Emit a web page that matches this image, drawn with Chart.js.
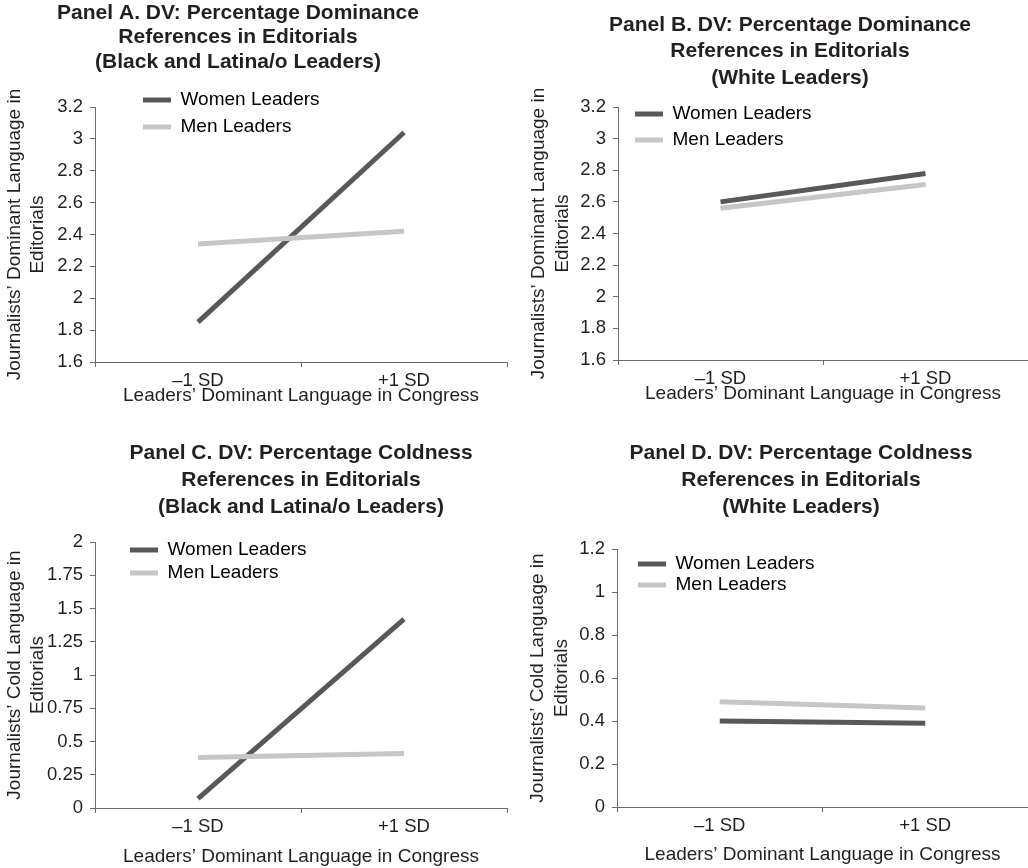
<!DOCTYPE html>
<html>
<head>
<meta charset="utf-8">
<script src="https://cdn.jsdelivr.net/npm/chart.js@4.4.1/dist/chart.umd.min.js"></script>
<style>
  body { margin: 0; background: #fff; }
  #wrap { position: relative; width: 1028px; height: 868px; }
  canvas { position: absolute; }
</style>
</head>
<body>
<div id="wrap">
  <canvas id="panelA" width="514" height="434" style="left:0;top:0"></canvas>
  <canvas id="panelB" width="514" height="434" style="left:514px;top:0"></canvas>
  <canvas id="panelC" width="514" height="434" style="left:0;top:434px"></canvas>
  <canvas id="panelD" width="514" height="434" style="left:514px;top:434px"></canvas>
</div>
<script>
// data
const sdLabels = ['\u20131 SD', '+1 SD'];
const seriesNames = ['Women Leaders', 'Men Leaders'];

const domMinorityWomen = [1.85, 3.04];
const domMinorityMen = [2.34, 2.42];
const domWhiteWomen = [2.60, 2.78];
const domWhiteMen = [2.56, 2.71];
const coldMinorityWomen = [0.07, 1.42];
const coldMinorityMen = [0.38, 0.41];
const coldWhiteWomen = [0.40, 0.39];
const coldWhiteMen = [0.49, 0.46];

const domTicks = { min: 1.6, max: 3.2, step: 0.2 };
const coldMinorityTicks = { min: 0, max: 2, step: 0.25 };
const coldWhiteTicks = { min: 0, max: 1.2, step: 0.2 };

const xTitle = 'Leaders\u2019 Dominant Language in Congress';
const yTitleDom = ['Journalists\u2019 Dominant Language in', 'Editorials'];
const yTitleCold = ['Journalists\u2019 Cold Language in', 'Editorials'];

const FONT = '"Liberation Sans", Arial, Helvetica, sans-serif';
const textColor = '#231f20';
const axisColor = '#6b6b6b';
const womenColor = '#58585a';
const menColor = '#c6c6c6';
const H = 434;

// moves the legend and centres the title where the figure has them
const panelTweak = {
  id: 'panelTweak',
  afterLayout(chart, args, opts) {
    const lg = chart.legend;
    if (lg) {
      lg.left = opts.legendLeft;
      lg.top = opts.legendTop;
      lg.bottom = lg.top + 300;
    }
    const tb = chart.titleBlock;
    if (tb) {
      tb.left = opts.titleCenter - 250;
      tb.right = opts.titleCenter + 250;
    }
  }
};

function makePanel(id, p) {
  const ctx = document.getElementById(id).getContext('2d');
  const fmt = (v) => String(+v.toFixed(2));
  return new Chart(ctx, {
    type: 'line',
    data: {
      labels: sdLabels,
      datasets: [
        { label: seriesNames[0], data: p.women, borderColor: womenColor, backgroundColor: womenColor,
          borderWidth: 5, pointRadius: 0, tension: 0, fill: false, order: 1 },
        { label: seriesNames[1], data: p.men, borderColor: menColor, backgroundColor: menColor,
          borderWidth: 5, pointRadius: 0, tension: 0, fill: false, order: 0 }
      ]
    },
    options: {
      responsive: false,
      animation: false,
      devicePixelRatio: 1,
      layout: { padding: { left: 0, top: 0, bottom: 0, right: p.padRight } },
      plugins: {
        tooltip: { enabled: false },
        title: {
          display: true,
          text: p.title,
          color: textColor,
          font: { family: FONT, size: 21, weight: 'bold', lineHeight: p.titleLH / 21 },
          padding: { top: p.titleTop, bottom: p.titleBottom }
        },
        legend: {
          position: 'chartArea',
          align: 'start',
          labels: {
            boxWidth: 28,
            boxHeight: 5,
            padding: p.legendPad,
            color: textColor,
            font: { family: FONT, size: 19 },
            generateLabels: (chart) => chart.data.datasets.map((ds, i) => ({
              text: ds.label, fillStyle: ds.borderColor, strokeStyle: ds.borderColor,
              lineWidth: 0, hidden: false, datasetIndex: i
            }))
          }
        },
        panelTweak: {
          legendLeft: p.legendX - p.legendPad,
          legendTop: p.legendY - 9.5 - p.legendPad,
          titleCenter: p.titleCenter
        }
      },
      scales: {
        x: {
          type: 'category',
          offset: true,
          grid: { offset: true, drawOnChartArea: false, tickLength: 5, tickColor: axisColor },
          border: { color: axisColor, width: 1 },
          ticks: { color: textColor, font: { family: FONT, size: 18.5 }, padding: 3, maxRotation: 0 },
          title: {
            display: true, text: xTitle, color: textColor,
            font: { family: FONT, size: 19, lineHeight: 23 / 19 },
            padding: { top: 0, bottom: p.xTitleBottom }
          },
          afterFit: (s) => { s.height = H - p.areaBottom; }
        },
        y: {
          min: p.ticks.min,
          max: p.ticks.max,
          grid: { drawOnChartArea: false, tickLength: 5, tickColor: axisColor },
          border: { color: axisColor, width: 1 },
          ticks: { stepSize: p.ticks.step, color: textColor, font: { family: FONT, size: 18.5 },
                   padding: 7, callback: fmt },
          title: {
            display: true, text: p.yTitle, color: textColor,
            font: { family: FONT, size: 19, lineHeight: p.yTitleLH / 19 },
            padding: { top: p.yTitleTop, bottom: 0 }
          },
          afterFit: (s) => { s.width = p.areaLeft; }
        }
      }
    },
    plugins: [panelTweak]
  });
}

makePanel('panelA', {
  title: ['Panel A. DV: Percentage Dominance', 'References in Editorials', '(Black and Latina/o Leaders)'],
  women: domMinorityWomen, men: domMinorityMen, ticks: domTicks, yTitle: yTitleDom,
  titleLH: 24.5, titleTop: 0.75, titleBottom: 32.75, titleCenter: 238,
  areaLeft: 95, areaBottom: 362, padRight: 7,
  legendX: 143, legendY: 100, legendPad: 8,
  yTitleLH: 23, yTitleTop: 3.5, xTitleBottom: 26.5
});

makePanel('panelB', {
  title: ['Panel B. DV: Percentage Dominance', 'References in Editorials', '(White Leaders)'],
  women: domWhiteWomen, men: domWhiteMen, ticks: domTicks, yTitle: yTitleDom,
  titleLH: 26.5, titleTop: 11.75, titleBottom: 15.75, titleCenter: 276,
  areaLeft: 104, areaBottom: 360, padRight: 0,
  legendX: 121, legendY: 114, legendPad: 7,
  yTitleLH: 24, yTitleTop: 13, xTitleBottom: 28.5
});

makePanel('panelC', {
  title: ['Panel C. DV: Percentage Coldness', 'References in Editorials', '(Black and Latina/o Leaders)'],
  women: coldMinorityWomen, men: coldMinorityMen, ticks: coldMinorityTicks, yTitle: yTitleCold,
  titleLH: 27, titleTop: 5.5, titleBottom: 21.5, titleCenter: 301,
  areaLeft: 95, areaBottom: 374, padRight: 7,
  legendX: 130, legendY: 116, legendPad: 4,
  yTitleLH: 23, yTitleTop: 3.5, xTitleBottom: 0
});

makePanel('panelD', {
  title: ['Panel D. DV: Percentage Coldness', 'References in Editorials', '(White Leaders)'],
  women: coldWhiteWomen, men: coldWhiteMen, ticks: coldWhiteTicks, yTitle: yTitleCold,
  titleLH: 27, titleTop: 5.5, titleBottom: 28.5, titleCenter: 287,
  areaLeft: 103, areaBottom: 373, padRight: 0,
  legendX: 124, legendY: 130, legendPad: 2,
  yTitleLH: 24, yTitleTop: 12, xTitleBottom: 1.5
});
</script>
</body>
</html>
